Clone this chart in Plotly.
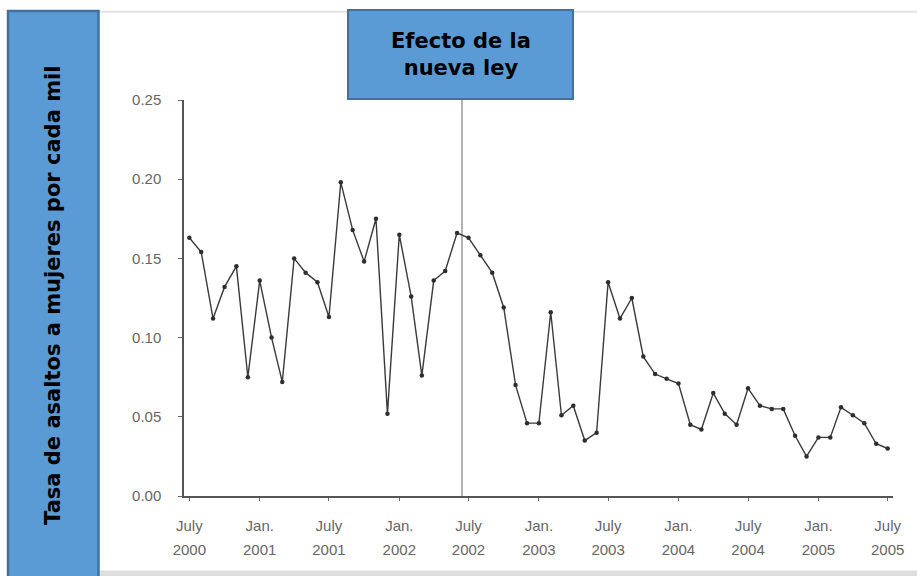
import pandas as pd
import plotly.graph_objects as go

# monthly rate, July 2000 .. July 2005
months = pd.date_range("2000-07-01", periods=61, freq="MS")
rate = [0.163, 0.154, 0.112, 0.132, 0.145, 0.075, 0.136, 0.100, 0.072, 0.150,
        0.141, 0.135, 0.113, 0.198, 0.168, 0.148, 0.175, 0.052, 0.165, 0.126,
        0.076, 0.136, 0.142, 0.166, 0.163, 0.152, 0.141, 0.119, 0.070, 0.046,
        0.046, 0.116, 0.051, 0.057, 0.035, 0.040, 0.135, 0.112, 0.125, 0.088,
        0.077, 0.074, 0.071, 0.045, 0.042, 0.065, 0.052, 0.045, 0.068, 0.057,
        0.055, 0.055, 0.038, 0.025, 0.037, 0.037, 0.056, 0.051, 0.046, 0.033,
        0.030]

tick_dates = ["2000-07-01", "2001-01-01", "2001-07-01", "2002-01-01", "2002-07-01",
              "2003-01-01", "2003-07-01", "2004-01-01", "2004-07-01", "2005-01-01",
              "2005-07-01"]
tick_month = ["July", "Jan.", "July", "Jan.", "July", "Jan.", "July", "Jan.", "July", "Jan.", "July"]
tick_year = ["2000", "2001", "2001", "2002", "2002", "2003", "2003", "2004", "2004", "2005", "2005"]

law_date = "2002-06-14"
x_range = ["2000-06-17", "2005-07-15"]

fig = go.Figure()
fig.add_trace(go.Scatter(
    x=months, y=rate, mode="lines+markers",
    line=dict(color="#3a3a3a", width=1.4),
    marker=dict(color="#2e2e2e", size=4.5),
    showlegend=False, hoverinfo="x+y"
))

tick_font = dict(family="Liberation Sans, Arial, sans-serif", size=15, color="#666666")

fig.update_layout(
    width=917, height=576,
    paper_bgcolor="white", plot_bgcolor="white",
    margin=dict(l=184, r=24, t=100, b=80),
    xaxis=dict(
        type="date", range=x_range,
        tickvals=tick_dates, ticktext=tick_month,
        ticks="outside", ticklen=3, tickcolor="#666",
        showline=True, linecolor="#555", linewidth=1.5,
        showgrid=False, zeroline=False,
        tickfont=tick_font, ticklabelstandoff=12
    ),
    xaxis2=dict(
        type="date", range=x_range, overlaying="x", side="bottom", anchor="y",
        tickvals=tick_dates, ticktext=tick_year,
        ticks="", showline=False, showgrid=False, zeroline=False,
        tickfont=tick_font, ticklabelstandoff=43
    ),
    yaxis=dict(
        range=[0, 0.25], tickvals=[0, 0.05, 0.10, 0.15, 0.20, 0.25], tickformat=".2f",
        ticks="outside", ticklen=4, tickcolor="#666",
        showline=True, linecolor="#555", linewidth=1.5,
        showgrid=False, zeroline=False,
        tickfont=tick_font, ticklabelstandoff=14
    ),
)

# dummy trace so the year axis is drawn
fig.add_trace(go.Scatter(x=[months[0]], y=[None], xaxis="x2", showlegend=False,
                         hoverinfo="skip"))

shapes = [
    # law line
    dict(type="line", xref="x", yref="paper", x0=law_date, x1=law_date, y0=0, y1=1,
         line=dict(color="#b3b3b3", width=2), layer="below"),
    # top frame line
    dict(type="line", xref="paper", yref="paper", x0=-0.12, x1=1.04, y0=1.223, y1=1.223,
         line=dict(color="#e3e3e3", width=2)),
    # bottom shadow band
    dict(type="rect", xref="paper", yref="paper", x0=-0.12, x1=1.04, y0=-0.22, y1=-0.188,
         fillcolor="#dedede", line=dict(width=0)),
    # left label box
    dict(type="rect", xref="paper", yref="paper", x0=-0.2482, x1=-0.1206, y0=-0.25, y1=1.2247,
         fillcolor="#5b9bd5", line=dict(color="#41719c", width=2.5)),
    # law label box
    dict(type="rect", xref="paper", yref="paper", x0=0.2313, x1=0.5487, y0=1.0025, y1=1.2273,
         fillcolor="#5b9bd5", line=dict(color="#41719c", width=2)),
]
fig.update_layout(shapes=shapes)

bold_font = dict(family="DejaVu Sans, sans-serif", size=21, color="black")
fig.add_annotation(xref="paper", yref="paper", x=0.39, y=1.115, xanchor="center",
                   yanchor="middle", showarrow=False,
                   text="<b>Efecto de la<br>nueva ley</b>", font=bold_font, align="center")
fig.add_annotation(xref="paper", yref="paper", x=-0.1848, y=0.5076, xanchor="center",
                   yanchor="middle", showarrow=False, textangle=-90,
                   text="<b>Tasa de asaltos a mujeres por cada mil</b>", font=bold_font)

fig.write_html("out.html", config={"displayModeBar": False},
               post_script="document.body.style.margin='0';")
